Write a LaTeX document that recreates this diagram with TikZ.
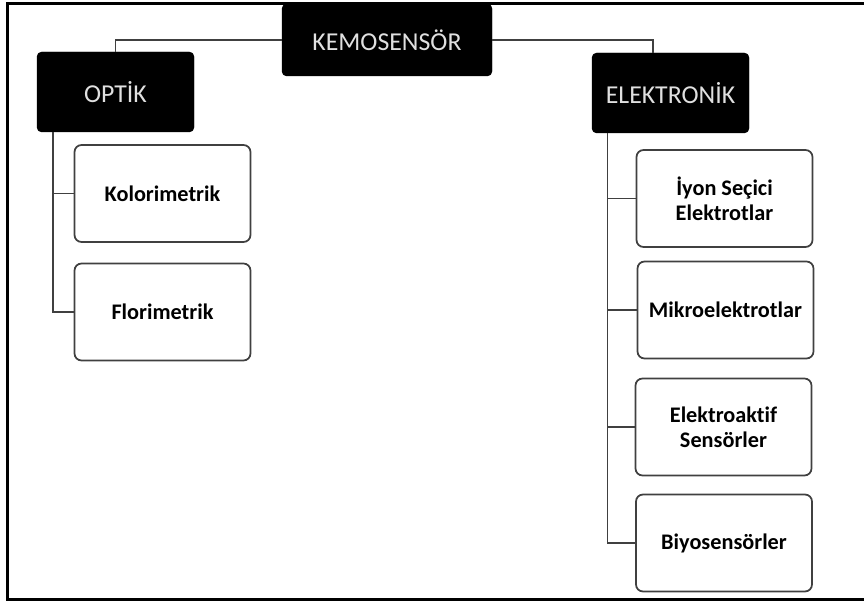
\documentclass[tikz,border=0pt]{standalone}
\usepackage{fontspec}
\setmainfont{Carlito}[Ligatures=NoCommon]
\usetikzlibrary{positioning}

\begin{document}
\begin{tikzpicture}[x=0.03cm,y=-0.03cm,
		head/.style={draw=black, fill=black, rounded corners=4pt, text=black!12, font=\fontsize{22}{24}\selectfont, inner sep=0pt},
		leaf/.style={draw=black!75, line width=1.5pt, fill=white, rounded corners=6pt, minimum width=176*0.03cm, minimum height=97*0.03cm, align=center, font=\bfseries\fontsize{19}{21}\selectfont, inner sep=0pt},
		link/.style={draw=black!75, line width=1.6pt}]
			\useasboundingbox (0,0) rectangle (864,601);
			\draw[line width=1.8pt] (866,3.5) -- (7.5,3.5) -- (7.5,599.5) -- (866,599.5);
			
			\node[head, minimum width=210*0.03cm, minimum height=72*0.03cm] (kemo) at (387,40) {KEMOSENS\"OR};
			\node[head, minimum width=157*0.03cm, minimum height=80*0.03cm] (optik) at (115.5,92) {OPT\.IK};
			\node[head, minimum width=157*0.03cm, minimum height=80*0.03cm] (elek) at (670.5,93) {ELEKTRON\.IK};
			
			\node[leaf] (kolor) at (162.5,193.5) {Kolorimetrik};
			\node[leaf] (flori) at (162.5,312) {Florimetrik};
			
			\node[leaf] (iyon) at (724.5,198.5) {\.Iyon Se\c{c}ici\\Elektrotlar};
			\node[leaf] (mikro) at (725.5,310) {Mikroelektrotlar};
			\node[leaf] (aktif) at (723.5,427) {Elektroaktif\\Sens\"orler};
			\node[leaf] (biyo) at (724,543) {Biyosens\"orler};
			
			\coordinate (ltrunk) at ([xshift=0.48cm]optik.south west);
			\coordinate (rtrunk) at ([xshift=0.47cm]elek.south west);
			\coordinate (etop) at ([xshift=-0.52cm]elek.north);
			
			\draw[link] (kemo.west) -| (optik.north);
			\draw[link] (kemo.east) -| (etop);
			
			\draw[link] (ltrunk) |- (flori.west);
			\draw[link] (kolor.west) -- (kolor.west -| ltrunk);
			
			\draw[link] (rtrunk) |- (biyo.west);
			\draw[link] (iyon.west) -- (iyon.west -| rtrunk);
			\draw[link] (mikro.west) -- (mikro.west -| rtrunk);
			\draw[link] (aktif.west) -- (aktif.west -| rtrunk);
		\end{tikzpicture}
\end{document}
